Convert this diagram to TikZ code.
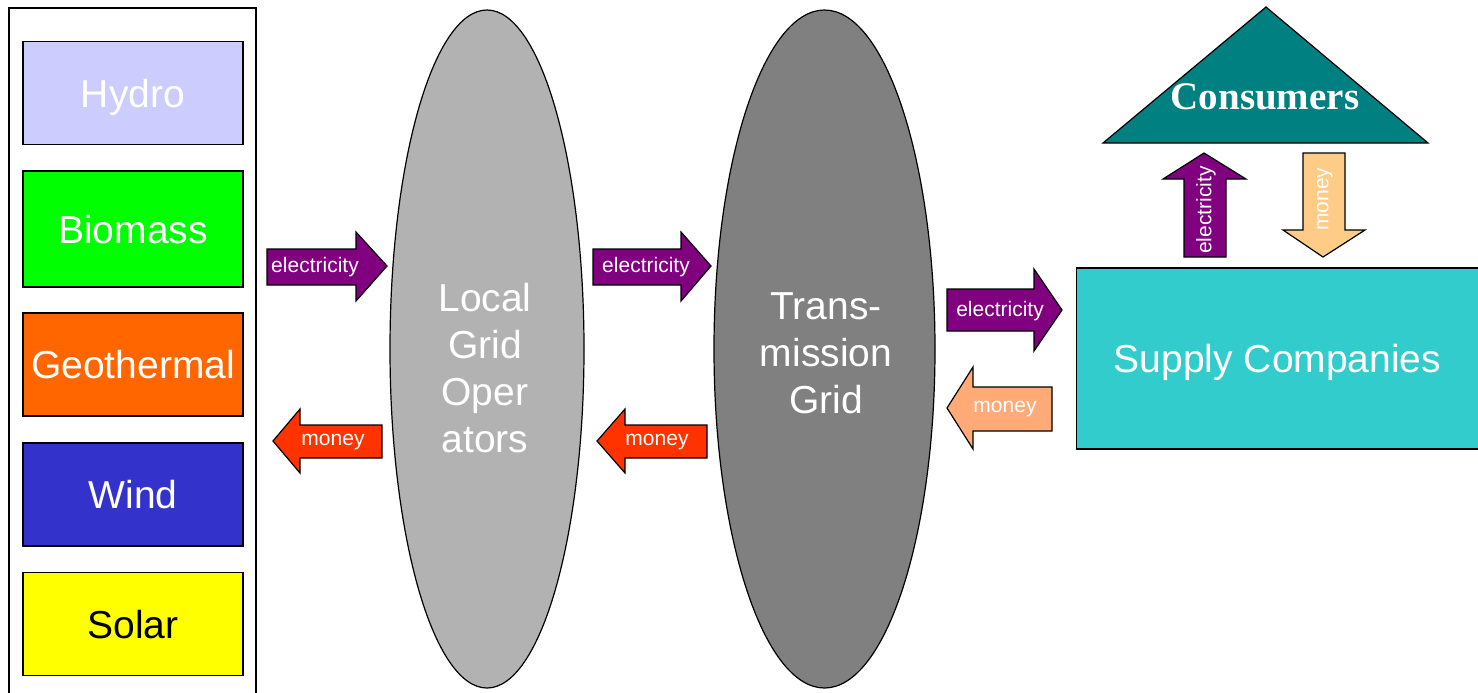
\documentclass[tikz,border=0pt]{standalone}
\usepackage{fontspec}
\setmainfont{Liberation Sans}
\newfontfamily\serifbold{Liberation Serif}
\usetikzlibrary{shapes.geometric}
\definecolor{hydroC}{HTML}{CCCCFF}
\definecolor{biomassC}{HTML}{00FF00}
\definecolor{geoC}{HTML}{FF6600}
\definecolor{windC}{HTML}{3333CC}
\definecolor{solarC}{HTML}{FFFF00}
\definecolor{localC}{HTML}{B2B2B2}
\definecolor{transC}{HTML}{808080}
\definecolor{elecC}{HTML}{800080}
\definecolor{moneyRed}{HTML}{FF3300}
\definecolor{moneyOr}{HTML}{FFAA77}
\definecolor{moneyLt}{HTML}{FFCC88}
\definecolor{consC}{HTML}{008080}
\definecolor{supplyC}{HTML}{33CCCC}
\tikzset{
  outline/.style={draw=black, line width=0.6pt},
  srcbox/.style={outline, minimum width=110pt, minimum height=51.5pt, inner sep=0pt, text height=14pt, text depth=0pt, font=\fontsize{19.5}{23.5}\selectfont},
  bigtext/.style={font=\fontsize{19.5}{23.5}\selectfont, text=white, align=center, inner sep=0pt},
  arrlabel/.style={font=\fontsize{10.5}{12}\selectfont, text=white, inner sep=0pt},
  arrshape/.style={outline, line join=miter}
}
\begin{document}
\begin{tikzpicture}[x=0.5pt,y=-0.5pt]
\useasboundingbox (0,0) rectangle (1478,692);
% outer frame (open at bottom)
\draw[outline] (9,700) -- (9,8) -- (256,8) -- (256,700);
% sources
\node[srcbox, fill=hydroC, text=white] (hydro) at (133,93) {Hydro};
\node[srcbox, fill=biomassC, text=white, minimum height=58pt] (biomass) at (133,229) {Biomass};
\node[srcbox, fill=geoC, text=white] (geo) at (133,364.5) {Geothermal};
\node[srcbox, fill=windC, text=white] (wind) at (133,494.5) {Wind};
\node[srcbox, fill=solarC, text=black] (solar) at (133,624) {Solar};
% ellipses
\node[ellipse, outline, fill=localC, minimum width=97pt, minimum height=339pt, inner sep=0pt] (local) at (487,349) {};
\node[bigtext] (localtxt) at (485,368) {Local\\Grid\\Oper\\ators};
\node[ellipse, outline, fill=transC, minimum width=110.5pt, minimum height=339pt, inner sep=0pt] (trans) at (824.5,349) {};
\node[bigtext] (transtxt) at (826,353) {Trans-\\mission\\Grid};
% supply companies
\node[outline, fill=supplyC, minimum width=201pt, minimum height=90.5pt, inner sep=0pt, bigtext, text height=14pt, text depth=0pt] (supply) at (1277.5,358.5) {Supply Companies};
% consumers
\draw[outline, fill=consC] (1266,7) -- (1428,143) -- (1103,143) -- cycle;
\node[font=\serifbold\bfseries\fontsize{19.5}{23}\selectfont, text=white, inner sep=0pt] (cons) at (1265,97) {Consumers};
% electricity arrow 1
\draw[arrshape, fill=elecC] (267,249) -- (356,249) -- (356,232) -- (387,266) -- (356,301) -- (356,285) -- (267,285) -- cycle;
\node[arrlabel] (e1) at (315,267) {electricity};
% money arrow 1
\draw[arrshape, fill=moneyRed] (382,425) -- (300,425) -- (300,409) -- (273,441) -- (300,473) -- (300,458) -- (382,458) -- cycle;
\node[arrlabel] (m1) at (333,442) {money};
% electricity arrow 2
\draw[arrshape, fill=elecC] (593,249) -- (681,249) -- (681,232) -- (711,266) -- (681,301) -- (681,285) -- (593,285) -- cycle;
\node[arrlabel] (e2) at (646,267) {electricity};
% money arrow 2
\draw[arrshape, fill=moneyRed] (707,425) -- (625,425) -- (625,409) -- (597,441) -- (625,473) -- (625,458) -- (707,458) -- cycle;
\node[arrlabel] (m2) at (657,442) {money};
% electricity arrow 3
\draw[arrshape, fill=elecC] (947,289) -- (1034,289) -- (1034,269) -- (1062,310) -- (1034,351) -- (1034,331) -- (947,331) -- cycle;
\node[arrlabel] (e3) at (1000,311) {electricity};
% money arrow 3
\draw[arrshape, fill=moneyOr] (1052,387) -- (973,387) -- (973,367) -- (947,408) -- (973,449) -- (973,431) -- (1052,431) -- cycle;
\node[arrlabel] (m3) at (1005,409) {money};
% up electricity arrow
\draw[arrshape, fill=elecC] (1184,257) -- (1184,179) -- (1163,179) -- (1204,153) -- (1246,179) -- (1226,179) -- (1226,257) -- cycle;
\node[arrlabel, rotate=90] (e4) at (1206,210) {electricity};
% down money arrow
\draw[arrshape, fill=moneyLt] (1303,153) -- (1345,153) -- (1345,230) -- (1365,230) -- (1323,257) -- (1283,230) -- (1303,230) -- cycle;
\node[arrlabel, rotate=90] (m4) at (1325,199) {money};
\end{tikzpicture}
\end{document}
